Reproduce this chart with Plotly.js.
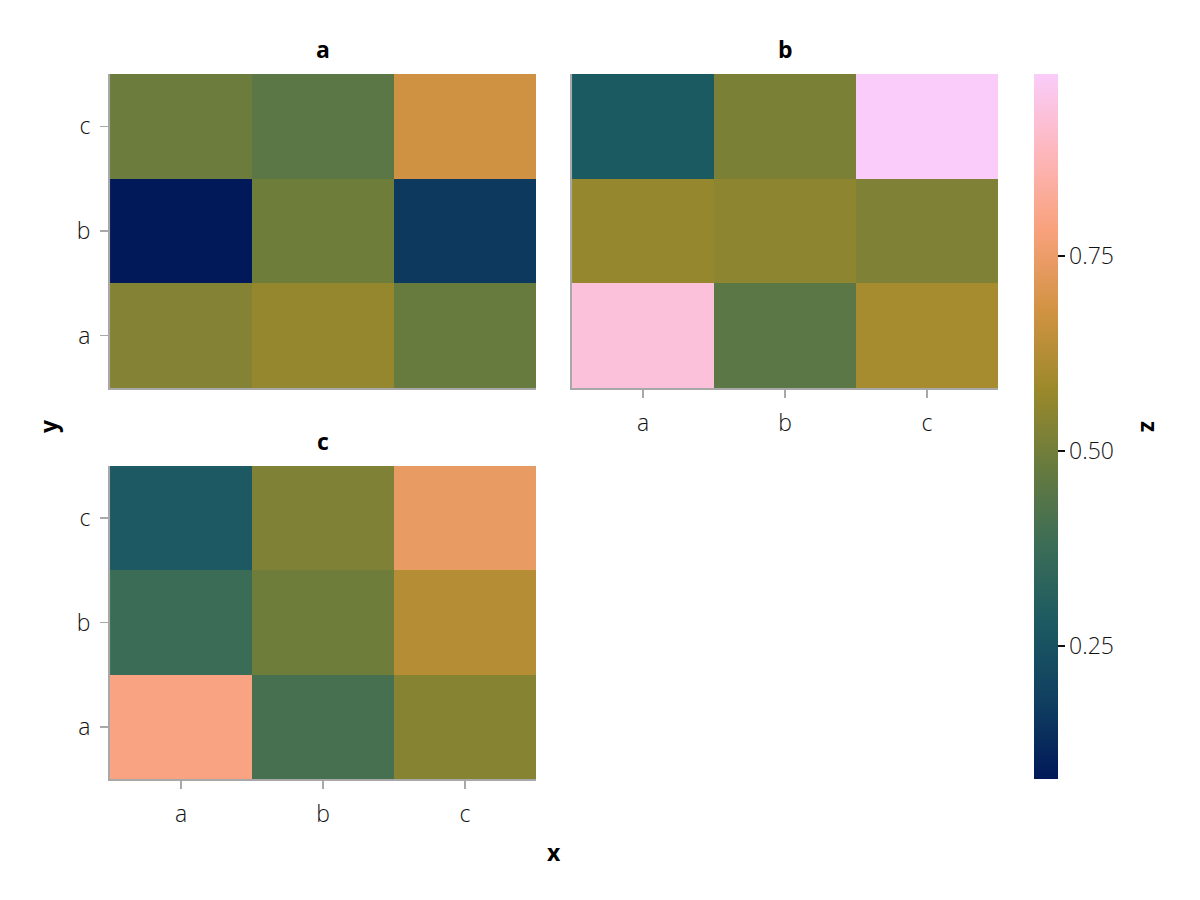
<!DOCTYPE html>
<html>
<head>
<meta charset="utf-8">
<script src="https://cdn.plot.ly/plotly-3.0.1.min.js"></script>
<style>html,body{margin:0;padding:0;background:#fff;}#chart{width:1200px;height:900px;}</style>
</head>
<body>
<div id="chart"></div>
<script>
// categories
const xCats = ['a', 'b', 'c'];
const yCats = ['a', 'b', 'c'];
const panelNames = ['a', 'b', 'c'];

// z values: rows = y (a, b, c), columns = x (a, b, c)
const zPanelA = [
  [0.534, 0.564, 0.480],
  [0.0795, 0.495, 0.164],
  [0.486, 0.452, 0.676]
];
const zPanelB = [
  [0.931, 0.450, 0.599],
  [0.567, 0.553, 0.522],
  [0.280, 0.517, 0.983]
];
const zPanelC = [
  [0.793, 0.405, 0.537],
  [0.378, 0.495, 0.625],
  [0.278, 0.522, 0.740]
];

const colorTickVals = [0.25, 0.5, 0.75];
const colorTickText = ['0.25', '0.50', '0.75'];

// batlow colormap
const batlow = [
  [0.0, '#011959'], [0.1111, '#103F60'], [0.2222, '#1C5A62'], [0.3333, '#3C6D56'],
  [0.4444, '#687B3E'], [0.5556, '#9D892B'], [0.6667, '#D29343'], [0.7778, '#F8A17B'],
  [0.8889, '#FDB7BC'], [1.0, '#FACCFA']
];

const FONT = '"Open Sans", "Noto Sans", sans-serif';
const spine = '#a8a8a8';
const tickFont = {family: FONT, size: 23, color: '#111', weight: 300};

const traces = [
  {type: 'heatmap', x: xCats, y: yCats, z: zPanelA, coloraxis: 'coloraxis', xaxis: 'x', yaxis: 'y'},
  {type: 'heatmap', x: xCats, y: yCats, z: zPanelB, coloraxis: 'coloraxis', xaxis: 'x2', yaxis: 'y2'},
  {type: 'heatmap', x: xCats, y: yCats, z: zPanelC, coloraxis: 'coloraxis', xaxis: 'x3', yaxis: 'y3'}
];

function ax(domain, anchor, showLabels) {
  return {
    domain: domain, anchor: anchor, type: 'category',
    showgrid: false, zeroline: false, showline: true, linecolor: spine, linewidth: 2,
    ticks: showLabels ? 'outside' : '', ticklen: 8, tickwidth: 1.5, tickcolor: spine,
    showticklabels: showLabels, tickfont: tickFont, ticklabelstandoff: 5,
    fixedrange: true, mirror: false
  };
}

const xa = [0.0917, 0.4467], xb = [0.4767, 0.8317];
const ytop = [0.5689, 0.9178], ybot = [0.1344, 0.4822];

function lab(text, px, py, angle) {
  return {text: '<b>' + text + '</b>', x: px / 1200, y: 1 - py / 900, xref: 'paper', yref: 'paper',
    xanchor: 'center', yanchor: 'middle', showarrow: false, textangle: angle || 0,
    font: {family: FONT, size: 23, color: '#000'}};
}

const layout = {
  width: 1200, height: 900,
  margin: {l: 0, r: 0, t: 0, b: 0},
  paper_bgcolor: '#fff', plot_bgcolor: '#fff',
  showlegend: false,
  xaxis: ax(xa, 'y', false),
  yaxis: ax(ytop, 'x', true),
  xaxis2: ax(xb, 'y2', true),
  yaxis2: ax(ytop, 'x2', false),
  xaxis3: ax(xa, 'y3', true),
  yaxis3: ax(ybot, 'x3', true),
  coloraxis: {
    colorscale: batlow,
    colorbar: {
      x: 1034 / 1200, xanchor: 'left', xref: 'paper',
      y: 1 - 74 / 900, yanchor: 'top', yref: 'paper',
      len: 705 / 900, lenmode: 'fraction',
      thickness: 24, thicknessmode: 'pixels',
      outlinewidth: 0, xpad: 0, ypad: 0,
      ticks: 'outside', ticklen: 7, tickwidth: 1.5, tickcolor: '#111',
      tickvals: colorTickVals, ticktext: colorTickText,
      tickfont: tickFont
    }
  },
  annotations: [
    lab(panelNames[0], 323, 49),
    lab(panelNames[1], 785, 49),
    lab(panelNames[2], 323, 441),
    lab('x', 554, 852),
    lab('y', 48, 426, -90),
    lab('z', 1150, 426, 90)
  ]
};

Plotly.newPlot('chart', traces, layout, {displayModeBar: false, staticPlot: true});
</script>
</body>
</html>
